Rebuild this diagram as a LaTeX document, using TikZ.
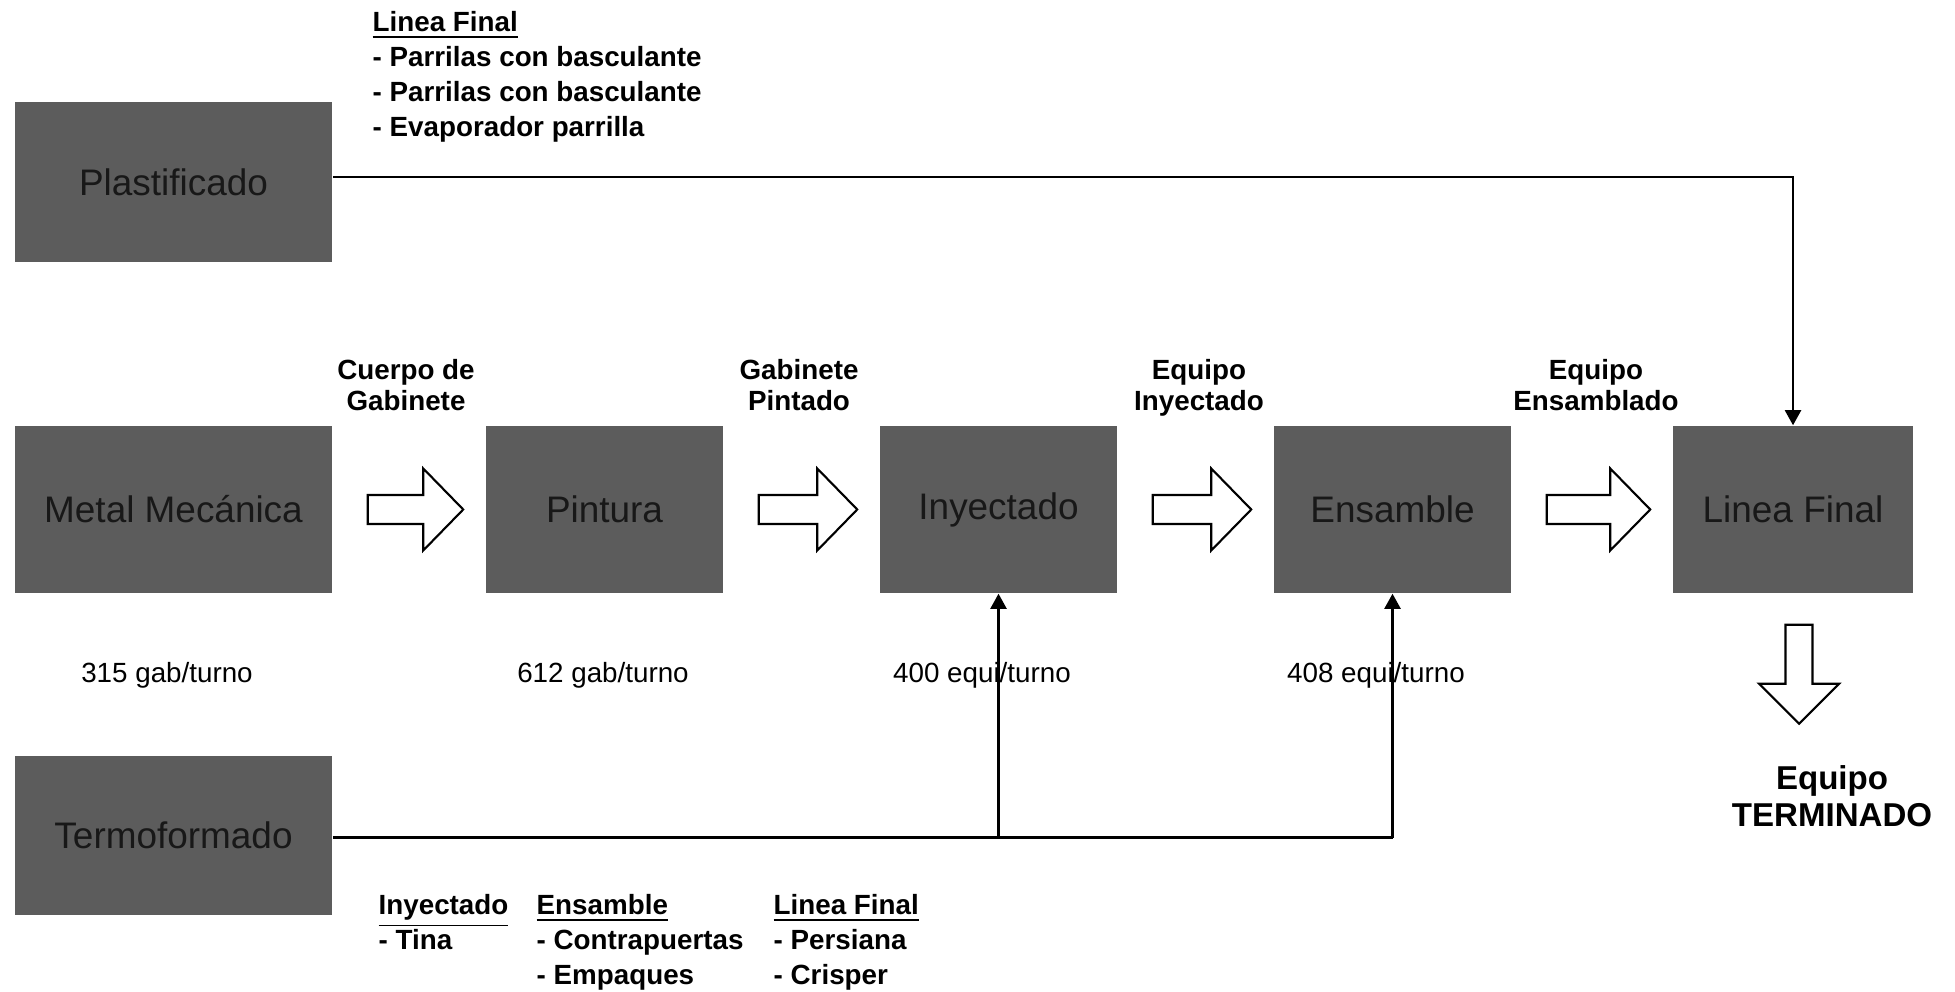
\documentclass[tikz,border=0pt]{standalone}
\usepackage{fontspec}
\setmainfont{Liberation Sans}
\usetikzlibrary{calc,arrows.meta}

\definecolor{boxgray}{RGB}{92,92,92}
\definecolor{boxtext}{RGB}{24,24,24}

% font sizes (1 unit = 0.01cm = 0.2845pt)
\newcommand{\boxfont}{\fontsize{10.5pt}{12pt}\selectfont}
\newcommand{\lblfont}{\fontsize{7.9pt}{8.8pt}\selectfont\bfseries}
\newcommand{\listfont}{\fontsize{7.9pt}{9.95pt}\selectfont\bfseries}
\newcommand{\ratefont}{\fontsize{7.9pt}{9pt}\selectfont}
\newcommand{\finfont}{\fontsize{9.4pt}{10.5pt}\selectfont\bfseries}

% hollow block arrow between two stations
\newcommand{\flowarrow}[2]{%
  \draw[blockarrow]
    ($(#1.east)+(35,-14.5)$) -- ($(#2.west)+(-62,-14.5)$) --
    ($(#2.west)+(-62,-41)$) -- ($(#2.west)+(-22,0)$) --
    ($(#2.west)+(-62,41)$) -- ($(#2.west)+(-62,14.5)$) --
    ($(#1.east)+(35,14.5)$) -- cycle;}

\begin{document}
\begin{tikzpicture}[x=0.01cm,y=-0.01cm,
  station/.style={fill=boxgray,text=boxtext,inner sep=0pt,font=\boxfont},
  blockarrow/.style={draw=black,fill=white,line width=0.6pt,line join=miter},
  feed/.style={draw=black,line width=0.6pt},
  feedarrow/.style={feed,-{Triangle[length=0.15cm,width=0.16cm]}},
  lbl/.style={inner sep=0pt,align=center,font=\lblfont},
  rate/.style={inner sep=0pt,font=\ratefont,anchor=base},
  list/.style={inner sep=0pt,align=left,font=\listfont,anchor=north west}]

\useasboundingbox (0,0) rectangle (1955,992);

% stations
\node[station,minimum width=3.17cm,minimum height=1.60cm] (plast) at (173.5,182) {Plastificado};
\node[station,minimum width=3.17cm,minimum height=1.67cm] (mm)    at (173.5,509.5) {Metal Mecánica};
\node[station,minimum width=2.37cm,minimum height=1.67cm] (pin)   at (604.5,509.5) {Pintura};
\node[station,minimum width=2.37cm,minimum height=1.67cm] (iny)   at (998.5,509.5) {Inyectado};
\node[station,minimum width=2.37cm,minimum height=1.67cm] (ens)   at (1392.5,509.5) {Ensamble};
\node[station,minimum width=2.40cm,minimum height=1.67cm] (lf)    at (1793,509.5) {Linea Final};
\node[station,minimum width=3.17cm,minimum height=1.59cm] (termo) at (173.5,835.5) {Termoformado};

% main flow
\flowarrow{mm}{pin}
\flowarrow{pin}{iny}
\flowarrow{iny}{ens}
\flowarrow{ens}{lf}

% labels over the flow arrows
\node[lbl,anchor=north] (l1) at (406,359) {Cuerpo de\\Gabinete};
\node[lbl,anchor=north] (l2) at (799,359) {Gabinete\\Pintado};
\node[lbl,anchor=north] (l3) at (1199,359) {Equipo\\Inyectado};
\node[lbl,anchor=north] (l4) at (1596,359) {Equipo\\Ensamblado};

% capacities
\node[rate] (r1) at (167,683) {315 gab/turno};
\node[rate] (r2) at (603,683) {612 gab/turno};
\node[rate] (r3) at (982,683) {400 equi/turno};
\node[rate] (r4) at (1376,683) {408 equi/turno};

% feeders
\draw[feedarrow] ($(plast.east)+(0,-5)$) -| (lf.north);
\draw[feed] ($(termo.east)+(0,2)$) -- ($(termo.east -| ens.south)+(0,2)$);
\draw[feedarrow] ($(termo.east -| iny.south)+(0,2)$) -- (iny.south);
\draw[feedarrow] ($(termo.east -| ens.south)+(0,2)$) -- (ens.south);

% finished product
\coordinate (tip) at ($(lf.south)+(6,130)$);
\draw[blockarrow]
  ($(lf.south)+(-7.5,31)$) -- ($(lf.south)+(-7.5,90)$) --
  ($(lf.south)+(-34,90)$) -- (tip) --
  ($(lf.south)+(46,90)$) -- ($(lf.south)+(19.5,90)$) --
  ($(lf.south)+(19.5,31)$) -- cycle;
\node[inner sep=0pt,align=center,font=\finfont,anchor=north] (fin) at (1832,765) {Equipo\\TERMINADO};

% parts lists
\node[list] (pl) at (372,11) {\underline{Linea Final}\\- Parrilas con basculante\\- Parrilas con basculante\\- Evaporador parrilla};
\node[list] (ti) at (378,894) {\underline{Inyectado}\\- Tina};
\node[list] (te) at (536,894) {\underline{Ensamble}\\- Contrapuertas\\- Empaques};
\node[list] (tl) at (773,894) {\underline{Linea Final}\\- Persiana\\- Crisper};
\end{tikzpicture}
\end{document}
